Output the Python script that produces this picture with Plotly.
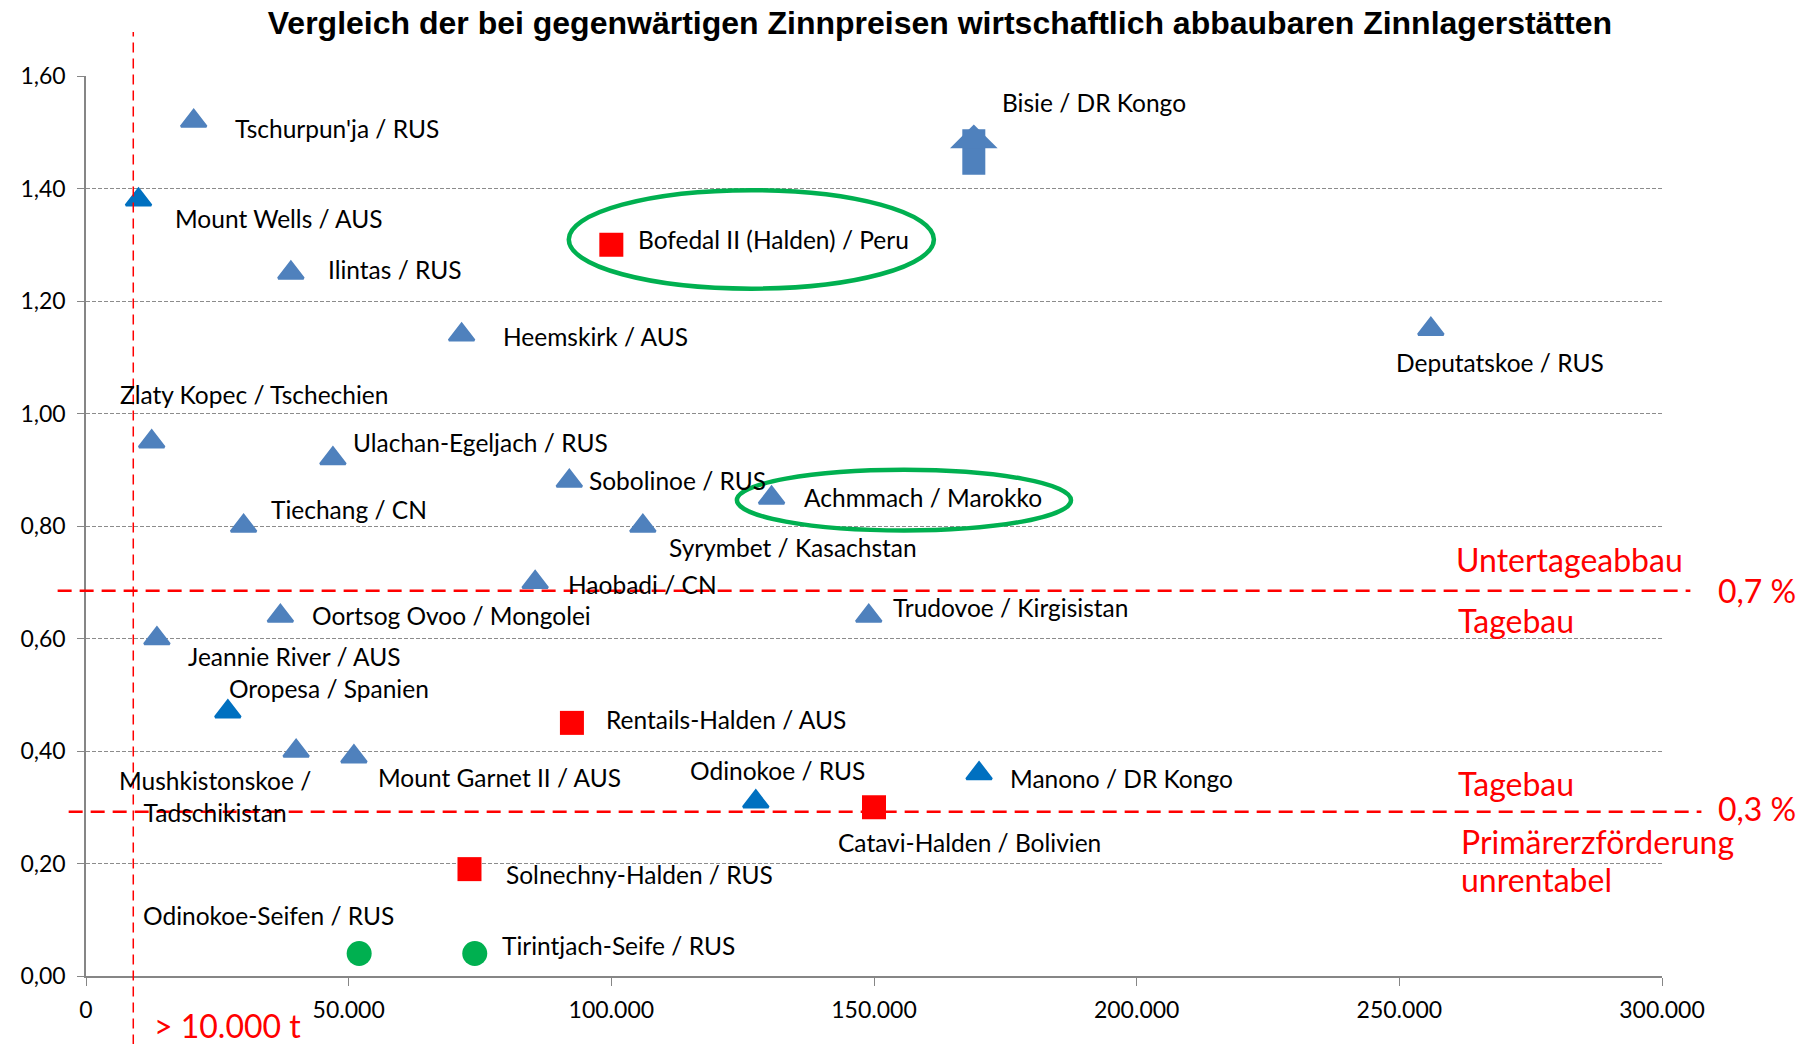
import plotly.graph_objects as go

# Lagerstaetten: Zinninhalt [t] vs. Gehalt [%]
tri_names = ["Tschurpun'ja / RUS", "Ilintas / RUS", "Heemskirk / AUS", "Deputatskoe / RUS",
             "Zlaty Kopec / Tschechien", "Ulachan-Egeljach / RUS", "Sobolinoe / RUS",
             "Achmmach / Marokko", "Tiechang / CN", "Syrymbet / Kasachstan", "Haobadi / CN",
             "Oortsog Ovoo / Mongolei", "Trudovoe / Kirgisistan", "Jeannie River / AUS",
             "Mushkistonskoe /<br>Tadschikistan", "Mount Garnet II / AUS"]
tri_x = [20500, 39000, 71500, 256000, 12500, 47000, 92000, 130500, 30000, 106000, 85500,
         37000, 149000, 13500, 40000, 51000]
tri_y = [1.52, 1.25, 1.14, 1.15, 0.95, 0.92, 0.88, 0.85, 0.80, 0.80, 0.70, 0.64, 0.64,
         0.60, 0.40, 0.39]

dark_names = ["Mount Wells / AUS", "Oropesa / Spanien", "Odinokoe / RUS", "Manono / DR Kongo"]
dark_x = [10000, 27000, 127500, 170000]
dark_y = [1.38, 0.47, 0.31, 0.36]

halden_names = ["Bofedal II (Halden) / Peru", "Rentails-Halden / AUS",
                "Catavi-Halden / Bolivien", "Solnechny-Halden / RUS"]
halden_x = [100000, 92500, 150000, 73000]
halden_y = [1.30, 0.45, 0.30, 0.19]

seifen_names = ["Odinokoe-Seifen / RUS", "Tirintjach-Seife / RUS"]
seifen_x = [52000, 74000]
seifen_y = [0.04, 0.04]

# Bisie liegt oberhalb der Skala -> Pfeil
bisie_name = "Bisie / DR Kongo"
bisie_x = 169000
bisie_y = [1.422, 1.514]

# Grenzen
min_tonnage = 9000
grade_untertage = 0.685
grade_primaer = 0.292

# label offsets in px (xshift, yshift), kept apart from the data
offs = {
    "Tschurpun'ja / RUS": (39, -7), "Mount Wells / AUS": (34, -19), "Ilintas / RUS": (35, 3),
    "Heemskirk / AUS": (39, -2), "Bofedal II (Halden) / Peru": (25, 5),
    "Deputatskoe / RUS": (-37, -33), "Zlaty Kopec / Tschechien": (-34, 47),
    "Ulachan-Egeljach / RUS": (18, 16), "Sobolinoe / RUS": (18, 1), "Achmmach / Marokko": (30, 0),
    "Tiechang / CN": (25, 17), "Syrymbet / Kasachstan": (24, -21), "Haobadi / CN": (31, -2),
    "Oortsog Ovoo / Mongolei": (30, 1), "Trudovoe / Kirgisistan": (22, 9),
    "Jeannie River / AUS": (29, -18), "Oropesa / Spanien": (-1, 23),
    "Mushkistonskoe /<br>Tadschikistan": (-81, -45), "Mount Garnet II / AUS": (22, -21),
    "Rentails-Halden / AUS": (32, 3), "Odinokoe / RUS": (-68, 31), "Manono / DR Kongo": (29, -5),
    "Catavi-Halden / Bolivien": (-38, -35), "Solnechny-Halden / RUS": (35, -5),
    "Odinokoe-Seifen / RUS": (-218, 38), "Tirintjach-Seife / RUS": (25, 8),
    "Bisie / DR Kongo": (26, 22),
}

FONT = "Lato"
LBL = 24.5
TICK = 23

fig = go.Figure()
fig.add_trace(go.Scatter(x=tri_x, y=tri_y, mode="markers",
                         marker=dict(symbol="triangle-up", size=22, color="#4F81BD",
                                     line=dict(color="#4F81BD", width=2.5))))
fig.add_trace(go.Scatter(x=dark_x, y=dark_y, mode="markers",
                         marker=dict(symbol="triangle-up", size=22, color="#0070C0",
                                     line=dict(color="#0070C0", width=2.5))))
fig.add_trace(go.Scatter(x=halden_x, y=halden_y, mode="markers",
                         marker=dict(symbol="square", size=24, color="#FF0000")))
fig.add_trace(go.Scatter(x=seifen_x, y=seifen_y, mode="markers",
                         marker=dict(symbol="circle", size=25, color="#00B050")))

annos = []
allpts = (list(zip(tri_names, tri_x, tri_y)) + list(zip(dark_names, dark_x, dark_y))
          + list(zip(halden_names, halden_x, halden_y)) + list(zip(seifen_names, seifen_x, seifen_y))
          + [(bisie_name, bisie_x, bisie_y[1])])
for n, x, y in allpts:
    dx, dy = offs[n]
    multi = "<br>" in n
    annos.append(dict(x=x, y=y, xref="x", yref="y", text=n, showarrow=False,
                      xanchor="center" if multi else "left", yanchor="middle",
                      xshift=dx, yshift=dy, font=dict(family=FONT, size=LBL, color="black")))

# Bisie arrow
annos.append(dict(x=bisie_x, y=bisie_y[1], ax=bisie_x, ay=bisie_y[0], xref="x", yref="y",
                  axref="x", ayref="y", text="", showarrow=True, arrowhead=1,
                  arrowwidth=23, arrowsize=0.345, arrowcolor="#4F81BD"))

red = dict(family=FONT, size=32, color="#FF0000")
red_txt = [("Untertageabbau", 0.868, 0.4625), ("Tagebau", 0.869, 0.3947), ("0,7 %", 1.034, 0.428),
           ("Tagebau", 0.869, 0.2135), ("0,3 %", 1.034, 0.1857),
           ("Primärerzförderung", 0.871, 0.150), ("unrentabel", 0.871, 0.1067),
           ("> 10.000 t", 0.0419, -0.055)]
for t, px, py in red_txt:
    annos.append(dict(x=px, y=py, xref="paper", yref="paper", text=t, showarrow=False,
                      xanchor="left", yanchor="middle", font=red))

shapes = [
    dict(type="line", xref="x", yref="paper", x0=min_tonnage, x1=min_tonnage, y0=-0.076, y1=1.049,
         line=dict(color="#FF0000", width=1.5, dash="10px,6px")),
    dict(type="line", xref="paper", yref="y", x0=-0.018, x1=1.018, y0=grade_untertage, y1=grade_untertage,
         line=dict(color="#FF0000", width=2.5, dash="14px,8px")),
    dict(type="line", xref="paper", yref="y", x0=-0.011, x1=1.025, y0=grade_primaer, y1=grade_primaer,
         line=dict(color="#FF0000", width=2.5, dash="14px,8px")),
    dict(type="circle", xref="x", yref="y", x0=91900, x1=161400, y0=1.222, y1=1.397,
         line=dict(color="#00B050", width=4.5)),
    dict(type="circle", xref="x", yref="y", x0=123900, x1=187500, y0=0.792, y1=0.900,
         line=dict(color="#00B050", width=4.5)),
]

fig.update_layout(
    width=1818, height=1044,
    margin=dict(l=86, r=156, t=76, b=68),
    plot_bgcolor="white", paper_bgcolor="white",
    showlegend=False,
    separators=",.",
    title=dict(text="<b>Vergleich der bei gegenwärtigen Zinnpreisen wirtschaftlich abbaubaren Zinnlagerstätten</b>",
               x=0.517, xref="container", xanchor="center", y=0.978, yanchor="middle",
               font=dict(family="Liberation Sans", size=32, color="black")),
    xaxis=dict(range=[0, 300000], dtick=50000, tickformat=",.0f", showgrid=False, zeroline=False,
               showline=True, linecolor="#868686", linewidth=1.5, ticks="outside", ticklen=8,
               tickcolor="#868686", tickfont=dict(family=FONT, size=TICK, color="black"),
               ticklabelstandoff=5),
    yaxis=dict(range=[0, 1.6], dtick=0.2, tickformat=".2f", showgrid=True, gridcolor="#8C8C8C",
               griddash="4px,2px", gridwidth=1.3, zeroline=False, showline=True, linecolor="#868686",
               linewidth=1.5, ticks="outside", ticklen=7, tickcolor="#868686",
               tickfont=dict(family=FONT, size=TICK, color="black"), ticklabelstandoff=7),
    annotations=annos, shapes=shapes,
)

fig.write_html("out.html", config={"displayModeBar": False},
               post_script="document.body.style.margin='0';")
